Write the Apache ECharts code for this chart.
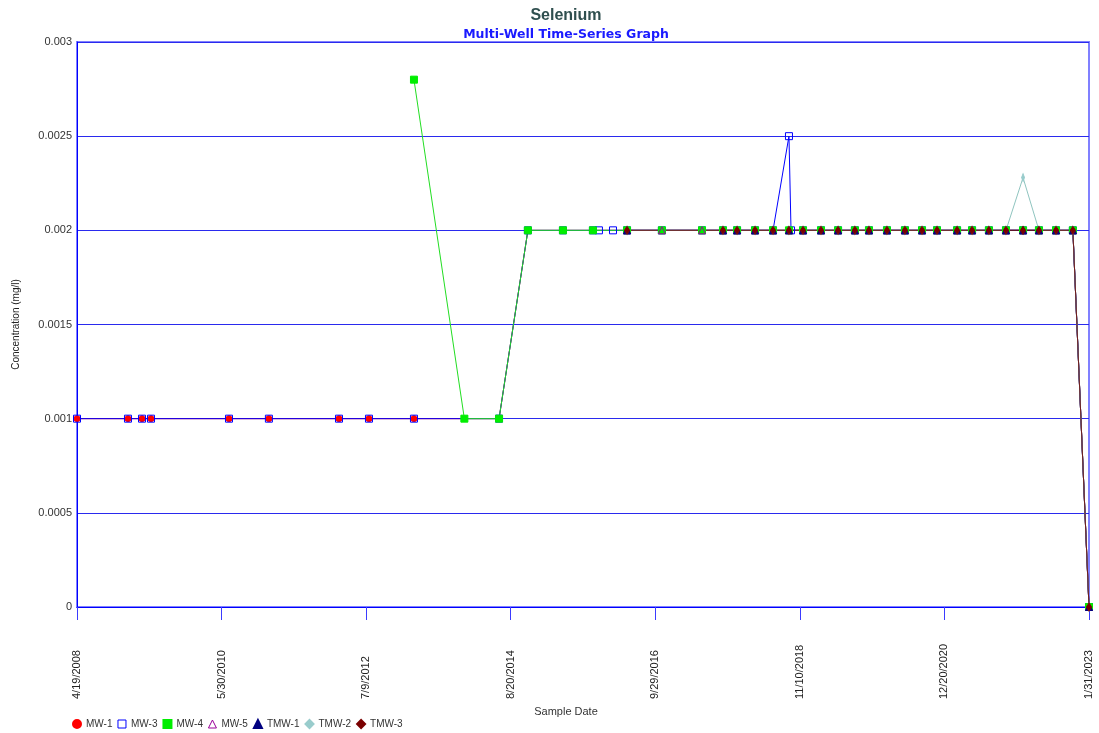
<!DOCTYPE html>
<html>
<head>
<meta charset="utf-8">
<script src="https://cdn.jsdelivr.net/npm/echarts@6/dist/echarts.min.js"></script>
<style>
html,body{margin:0;padding:0;background:#fff;}
#chart{width:1099px;height:733px;}
</style>
</head>
<body>
<div id="chart"></div>
<script>
// ---- Data ----
const sampleDates = [
  '2008-04-19','2009-01-16','2009-04-01','2009-05-19','2010-07-09','2011-02-07','2012-02-16','2012-07-25','2013-03-22',
  '2013-12-16','2014-06-19','2014-11-20','2015-05-26','2015-11-02','2015-12-04','2016-02-17','2016-05-02','2016-11-04',
  '2017-06-06','2017-09-26','2017-12-10','2018-03-16','2018-06-20','2018-09-13','2018-09-24','2018-11-27','2019-03-03',
  '2019-06-02','2019-08-31','2019-11-14','2020-02-18','2020-05-24','2020-08-23','2020-11-11','2021-02-26','2021-05-17',
  '2021-08-15','2021-11-14','2022-02-13','2022-05-09','2022-08-08','2022-11-06','2023-01-31'
];
const N = null;
const mw1 = [0.001,0.001,0.001,0.001,0.001,0.001,0.001,0.001,0.001, N, 0.001, 0.002,0.002,0.002, N,N,
  0.002,0.002,0.002,0.002,0.002,0.002,0.002,0.002, N,
  0.002,0.002,0.002,0.002,0.002,0.002,0.002,0.002,0.002,0.002,0.002,0.002,0.002,0.002,0.002,0.002,0.002, 0];
const mw3 = [0.001,0.001,0.001,0.001,0.001,0.001,0.001,0.001,0.001, N, 0.001, 0.002,0.002,0.002, 0.002,0.002,
  0.002,0.002,0.002,0.002,0.002,0.002,0.002,0.0025, 0.002,
  0.002,0.002,0.002,0.002,0.002,0.002,0.002,0.002,0.002,0.002,0.002,0.002,0.002,0.002,0.002,0.002,0.002, 0];
const mw4 = [N,N,N,N,N,N,N,N,0.0028, 0.001, 0.001, 0.002,0.002,0.002, N,N,
  0.002,0.002,0.002,0.002,0.002,0.002,0.002,0.002, N,
  0.002,0.002,0.002,0.002,0.002,0.002,0.002,0.002,0.002,0.002,0.002,0.002,0.002,0.002,0.002,0.002,0.002, 0];
const mw5 = [N,N,N,N,N,N,N,N,N,N,N,N,N,N,N,N,
  0.002,0.002,0.002,0.002,0.002,0.002,0.002,0.002, N,
  0.002,0.002,0.002,0.002,0.002,0.002,0.002,0.002,0.002,0.002,0.002,0.002,0.002,0.002,0.002,0.002,0.002, 0];
const tmw1 = [N,N,N,N,N,N,N,N,N,N,N,N,N,N,N,N,
  0.002,N,N,0.002,0.002,0.002,0.002,0.002, N,
  0.002,0.002,0.002,0.002,0.002,0.002,0.002,0.002,0.002,0.002,0.002,0.002,0.002,0.002,0.002,0.002,0.002, 0];
const tmw2 = [N,N,N,N,N,N,N,N,N,N,N,N,N,N,N,N,
  0.002,N,N,0.002,0.002,0.002,0.002,0.002, N,
  0.002,0.002,0.002,0.002,0.002,0.002,0.002,0.002,0.002,0.002,0.002,0.002,0.002,0.00228,0.002,0.002,0.002, 0];
const tmw3 = [N,N,N,N,N,N,N,N,N,N,N,N,N,N,N,N,
  0.002,N,N,0.002,0.002,0.002,0.002,0.002, N,
  0.002,0.002,0.002,0.002,0.002,0.002,0.002,0.002,0.002,0.002,0.002,0.002,0.002,0.002,0.002,0.002,0.002, 0];
const xTickLabels = ['4/19/2008','5/30/2010','7/9/2012','8/20/2014','9/29/2016','11/10/2018','12/20/2020','1/31/2023'];
const startDate = '2008-04-19';
const endDate = '2023-01-31';

// ---- Build chart ----
function dayNum(s) {
  const p = s.split('-').map(Number);
  return Date.UTC(p[0], p[1] - 1, p[2]) / 86400000;
}
const d0 = dayNum(startDate);
const totalDays = dayNum(endDate) - d0;           // span of the axis in days
const SCALE = xTickLabels.length - 1;              // x = days * 7 so the tick interval is an integer
const xInterval = totalDays;                        // (totalDays*7)/7
function toX(s) { return (dayNum(s) - d0) * SCALE; }
function mk(vals) {
  const out = [];
  sampleDates.forEach((d, i) => { if (vals[i] !== null) out.push([toX(d), vals[i]]); });
  return out;
}

const FONT = 'Liberation Sans, Arial, sans-serif';
const seriesDefs = [
  {name:'MW-1', vals:mw1, fill:'#ff0000', stroke:'#ff0000', line:'#ff0000', symbol:'circle', size:6},
  {name:'MW-3', vals:mw3, fill:'rgba(0,0,0,0)', stroke:'#0000ff', line:'#0000ff', symbol:'rect', size:7},
  {name:'MW-4', vals:mw4, fill:'#00ee00', stroke:'#00ee00', line:'#22dd22', symbol:'rect', size:7},
  {name:'MW-5', vals:mw5, fill:'rgba(0,0,0,0)', stroke:'#990099', line:'#990099', symbol:'triangle', size:7},
  {name:'TMW-1', vals:tmw1, fill:'#000080', stroke:'#000080', line:'#000080', symbol:'triangle', size:7},
  {name:'TMW-2', vals:tmw2, fill:'#99cccc', stroke:'#99cccc', line:'#8fc4bf', symbol:'diamond', size:[3,8]},
  {name:'TMW-3', vals:tmw3, fill:'#7a0000', stroke:'#7a0000', line:'#6e1a1a', symbol:'diamond', size:[5,8]}
];
const legendIcons = {
  'MW-1': {icon:'circle', itemStyle:{color:'#ff0000'}},
  'MW-3': {icon:'rect', itemStyle:{color:'#ffffff', borderColor:'#0000ff', borderWidth:1}},
  'MW-4': {icon:'rect', itemStyle:{color:'#00ee00'}},
  'MW-5': {icon:'triangle', itemStyle:{color:'#ffffff', borderColor:'#990099', borderWidth:1}},
  'TMW-1': {icon:'triangle', itemStyle:{color:'#000080'}},
  'TMW-2': {icon:'diamond', itemStyle:{color:'#99cccc'}},
  'TMW-3': {icon:'diamond', itemStyle:{color:'#7a0000'}}
};

const chart = echarts.init(document.getElementById('chart'));
chart.setOption({
  animation: false,
  backgroundColor: '#ffffff',
  title: [
    {text:'Selenium', left:566, top:8, textAlign:'center', padding:0,
     textStyle:{fontFamily:FONT, fontSize:16, fontWeight:'bold', color:'#2f4f4f'}},
    {text:'Multi-Well Time-Series Graph', left:566, top:28, textAlign:'center', padding:0,
     textStyle:{fontFamily:'DejaVu Sans, sans-serif', fontSize:12.5, fontWeight:'bold', color:'#1a1aff'}}
  ],
  legend: {
    left: 72, top: 719, padding: 0,
    itemWidth: 8, itemHeight: 8, itemGap: 5,
    textStyle: {fontFamily: FONT, fontSize: 10, color: '#333'},
    data: seriesDefs.map(s => Object.assign({name: s.name}, legendIcons[s.name]))
  },
  grid: {left:77, right:10, top:42, bottom:126, show:true, borderColor:'#8080ff', borderWidth:2, backgroundColor:'transparent'},
  xAxis: {
    type: 'value', min: 0, max: totalDays * SCALE, interval: xInterval,
    name: 'Sample Date', nameLocation: 'middle', nameGap: 92,
    nameTextStyle: {fontFamily: FONT, fontSize: 11, color: '#333', padding: [0, 34, 0, 0]},
    axisLine: {show: true, lineStyle: {color: '#0000ff', width: 1}},
    axisTick: {show: true, length: 13, lineStyle: {color: '#3b3bff', width: 1}},
    splitLine: {show: false},
    axisLabel: {
      rotate: 90, margin: 92, align: 'left', verticalAlign: 'middle',
      fontFamily: FONT, fontSize: 11, color: '#222',
      formatter: v => xTickLabels[Math.round(v / xInterval)] || ''
    }
  },
  yAxis: {
    type: 'value', min: 0, max: 0.003, interval: 0.0005,
    name: 'Concentration (mg/l)', nameLocation: 'middle', nameGap: 56,
    nameTextStyle: {fontFamily: FONT, fontSize: 10, color: '#222'},
    axisLine: {show: true, lineStyle: {color: '#0000ff', width: 1}},
    axisTick: {show: false},
    splitLine: {show: true, lineStyle: {color: '#2a2aee', width: 1}},
    axisLabel: {
      margin: 5, fontFamily: FONT, fontSize: 11, color: '#333',
      formatter: v => String(+v.toFixed(4))
    }
  },
  series: seriesDefs.map(s => ({
    name: s.name, type: 'line', data: mk(s.vals),
    symbol: s.symbol, symbolSize: s.size, showAllSymbol: true,
    connectNulls: true,
    lineStyle: {color: s.line, width: 1},
    itemStyle: {color: s.fill, borderColor: s.stroke, borderWidth: 1},
    emphasis: {disabled: true}
  }))
});
</script>
</body>
</html>
